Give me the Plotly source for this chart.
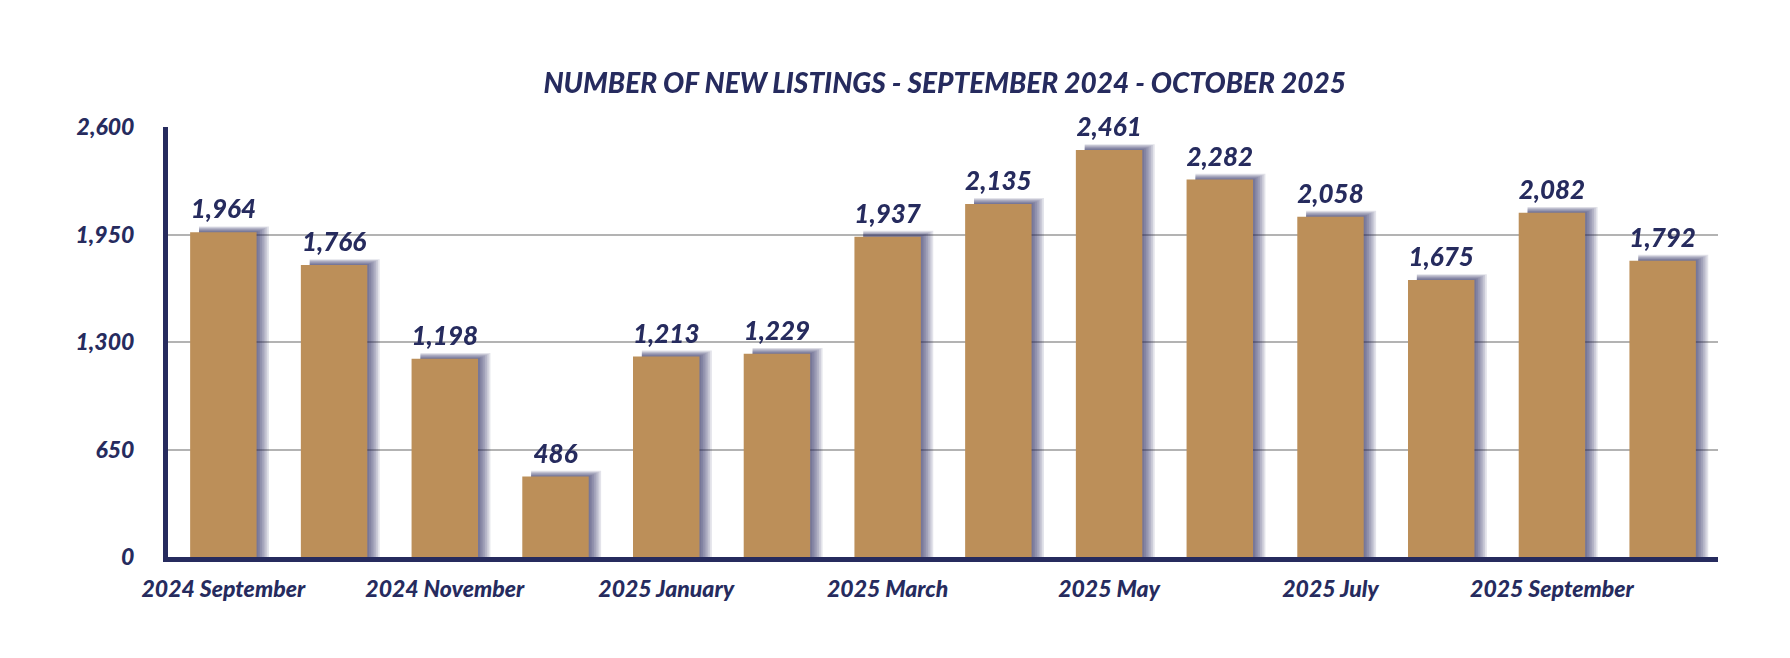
import plotly.graph_objects as go

# data
months = ['2024 September', '2024 October', '2024 November', '2024 December',
          '2025 January', '2025 February', '2025 March', '2025 April',
          '2025 May', '2025 June', '2025 July', '2025 August',
          '2025 September', '2025 October']
new_listings = [1964, 1766, 1198, 486, 1213, 1229, 1937, 2135,
                2461, 2282, 2058, 1675, 2082, 1792]
labelled_months = months[::2]
y_ticks = [0, 650, 1300, 1950, 2600]

NAVY = '#262b5e'
TAN = '#bc8f59'
FONT = 'Lato'

fig = go.Figure()

# soft navy glow behind the bars, built from a few faint layers
bar_w = 0.6
for i in range(1, 8):
    fig.add_trace(go.Bar(
        x=months,
        y=[v + 5 * i for v in new_listings],
        width=bar_w - 0.08 + 0.016 * i,
        offset=-bar_w / 2 + 0.08,
        marker=dict(color=NAVY, line=dict(width=0)),
        opacity=0.13,
        hoverinfo='skip',
        showlegend=False,
    ))

# the bars themselves
fig.add_trace(go.Bar(
    x=months,
    y=new_listings,
    width=bar_w,
    offset=-bar_w / 2,
    marker=dict(color=TAN, line=dict(width=0)),
    showlegend=False,
))

# value labels above the bars (invisible markers give a small gap)
fig.add_trace(go.Scatter(
    x=months,
    y=new_listings,
    mode='markers+text',
    marker=dict(size=10, color='rgba(0,0,0,0)'),
    text=[f'{v:,}' for v in new_listings],
    textposition='top center',
    textfont=dict(family=FONT, size=26, color=NAVY, weight=900, style='italic'),
    cliponaxis=False,
    hoverinfo='skip',
    showlegend=False,
))

fig.update_layout(
    barmode='overlay',
    width=1774,
    height=642,
    paper_bgcolor='white',
    plot_bgcolor='white',
    margin=dict(l=160, r=64, t=119, b=93),
    title=dict(
        text='NUMBER OF NEW LISTINGS - SEPTEMBER 2024 - OCTOBER 2025',
        x=0.528, xanchor='center', y=0.883, yanchor='middle',
        font=dict(family=FONT, size=28, color=NAVY, weight=900, style='italic'),
    ),
    font=dict(family=FONT, color=NAVY),
)

fig.update_xaxes(
    type='category',
    categoryorder='array',
    categoryarray=months,
    range=[-0.5, len(months) - 0.5],
    tickvals=labelled_months,
    ticktext=labelled_months,
    tickfont=dict(family=FONT, size=23, color=NAVY, weight=900, style='italic'),
    ticklabelstandoff=7,
    showline=True,
    linecolor=NAVY,
    linewidth=5,
    ticks='',
    showgrid=False,
)

fig.update_yaxes(
    range=[0, 2600],
    tickvals=y_ticks,
    tickformat=',',
    tickfont=dict(family=FONT, size=23, color=NAVY, weight=900, style='italic'),
    ticklabelstandoff=24,
    showline=True,
    linecolor=NAVY,
    linewidth=5,
    showgrid=True,
    gridcolor='#b3b3b3',
    gridwidth=2,
    zeroline=False,
    ticks='',
)

fig.write_html('out.html')
